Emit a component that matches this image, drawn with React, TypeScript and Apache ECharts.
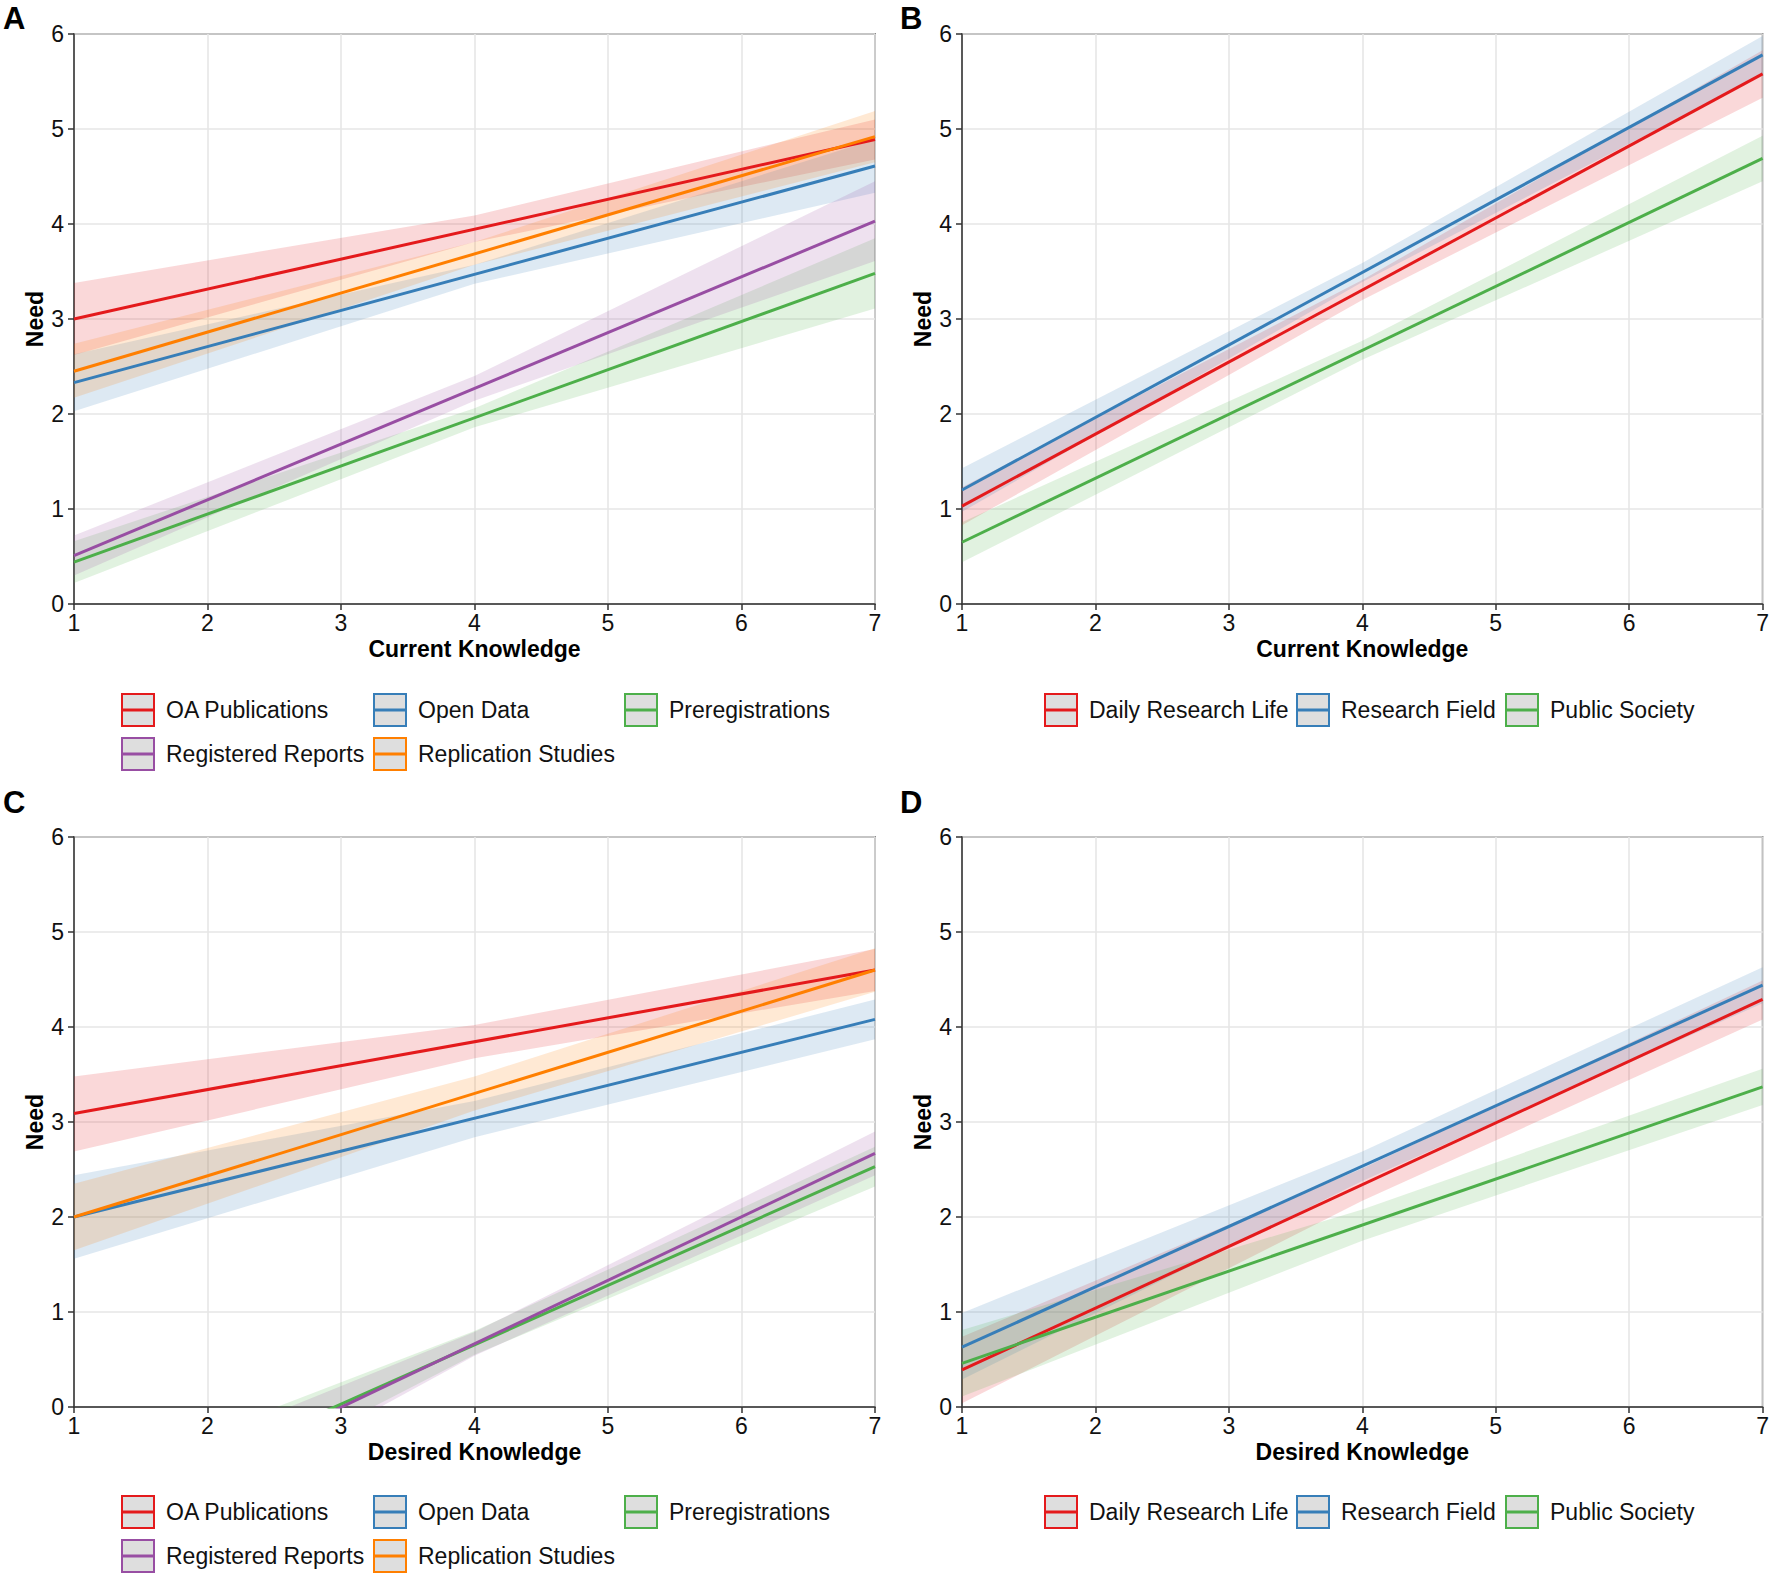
import React, { useEffect, useRef } from "react";
import * as echarts from "echarts";

// ---------- data ----------
const lineX = [1, 7];
const bandX = [1, 4, 7];

const typeNames = ["OA Publications", "Open Data", "Preregistrations", "Registered Reports", "Replication Studies"];
const typeColors = ["#E41A1C", "#377EB8", "#4DAF4A", "#984EA3", "#FF7F00"];
const levelNames = ["Daily Research Life", "Research Field", "Public Society"];
const levelColors = ["#E41A1C", "#377EB8", "#4DAF4A"];

// Panel A: Current Knowledge x type
const aLine = [[3.0, 4.89], [2.33, 4.61], [0.44, 3.48], [0.51, 4.03], [2.45, 4.92]];
const aLower = [[2.62, 3.81, 4.68], [2.03, 3.37, 4.33], [0.22, 1.86, 3.11], [0.30, 2.14, 3.61], [2.17, 3.57, 4.65]];
const aUpper = [[3.38, 4.09, 5.10], [2.63, 3.57, 4.89], [0.66, 2.06, 3.85], [0.72, 2.40, 4.45], [2.74, 3.81, 5.19]];

// Panel B: Current Knowledge x level
const bLine = [[1.03, 5.58], [1.20, 5.78], [0.65, 4.69]];
const bLower = [[0.83, 3.20, 5.33], [0.97, 3.39, 5.57], [0.44, 2.57, 4.45]];
const bUpper = [[1.23, 3.41, 5.83], [1.43, 3.59, 5.98], [0.86, 2.77, 4.93]];

// Panel C: Desired Knowledge x type
const cLine = [[3.09, 4.60], [2.0, 4.08], [-1.22, 2.53], [-1.34, 2.67], [2.0, 4.60]];
const cLower = [[2.69, 3.67, 4.38], [1.56, 2.84, 3.87], [-1.62, 0.55, 2.32], [-1.76, 0.54, 2.44], [1.65, 3.12, 4.37]];
const cUpper = [[3.48, 4.02, 4.82], [2.44, 3.22, 4.29], [-0.82, 0.80, 2.74], [-0.92, 0.79, 2.90], [2.35, 3.48, 4.83]];

// Panel D: Desired Knowledge x level
const dLine = [[0.39, 4.29], [0.63, 4.44], [0.46, 3.37]];
const dLower = [[0.04, 2.17, 4.08], [0.29, 2.38, 4.25], [0.11, 1.75, 3.18]];
const dUpper = [[0.74, 2.51, 4.49], [0.99, 2.69, 4.63], [0.81, 2.08, 3.56]];

const panelLetters = ["A", "B", "C", "D"];
const xTitles = ["Current Knowledge", "Current Knowledge", "Desired Knowledge", "Desired Knowledge"];
const yTitle = "Need";

// ---------- layout ----------
const FONT = "'Liberation Sans', Arial, Helvetica, sans-serif";
const grids = [
  { left: 74, top: 34, width: 801, height: 570 },
  { left: 962, top: 34, width: 801, height: 570 },
  { left: 74, top: 837, width: 801, height: 570 },
  { left: 962, top: 837, width: 801, height: 570 },
];

function buildSeries(g: number, names: string[], colors: string[], line: number[][], lower: number[][], upper: number[][]) {
  const out: any[] = [];
  names.forEach((name, i) => {
    const pts = bandX.map((x, k) => [x, lower[i][k], upper[i][k]]);
    const color = colors[i];
    out.push({
      type: "custom",
      name: name + " CI",
      xAxisIndex: g,
      yAxisIndex: g,
      clip: true,
      silent: true,
      z: 1,
      data: pts,
      encode: { x: 0, y: [1, 2] },
      renderItem: (params: any, api: any) => {
        if (params.dataIndex !== 0) return { type: "group", children: [] };
        const up = pts.map((p) => api.coord([p[0], p[2]]));
        const lo = pts.map((p) => api.coord([p[0], p[1]])).reverse();
        return {
          type: "polygon",
          shape: { points: up.concat(lo) },
          style: { fill: color, opacity: 0.17 },
        };
      },
    });
    out.push({
      type: "line",
      name,
      xAxisIndex: g,
      yAxisIndex: g,
      data: lineX.map((x, k) => [x, line[i][k]]),
      showSymbol: false,
      symbol: "none",
      clip: true,
      silent: true,
      z: 3,
      lineStyle: { color, width: 3 },
      itemStyle: { color },
    });
  });
  return out;
}

function legendGraphics(names: string[], colors: string[], keyXs: number[], rowYs: number[]) {
  const els: any[] = [];
  names.forEach((name, i) => {
    const col = i % keyXs.length;
    const row = Math.floor(i / keyXs.length);
    const x = keyXs[col];
    const y = rowYs[row];
    els.push({
      type: "rect",
      shape: { x: x, y: y - 16, width: 32, height: 32 },
      style: { fill: "#dedede", stroke: colors[i], lineWidth: 2 },
    });
    els.push({
      type: "line",
      shape: { x1: x + 1, y1: y, x2: x + 31, y2: y },
      style: { stroke: colors[i], lineWidth: 3 },
    });
    els.push({
      type: "text",
      x: x + 44,
      y: y,
      style: { text: name, font: `23px ${FONT}`, fill: "#111", textVerticalAlign: "middle", textAlign: "left" },
    });
  });
  return els;
}

export default function App() {
  const ref = useRef<HTMLDivElement>(null);
  useEffect(() => {
    if (!ref.current) return;
    const chart = echarts.init(ref.current, undefined, { renderer: "svg" });

    const axisLineStyle = { color: "#333", width: 1.5 };
    const xAxes = grids.map((_, g) => ({
      type: "value",
      gridIndex: g,
      min: 1,
      max: 7,
      interval: 1,
      name: xTitles[g],
      nameLocation: "middle",
      nameGap: 33,
      nameTextStyle: { fontFamily: FONT, fontSize: 23, fontWeight: "bold", color: "#000" },
      axisLine: { show: true, lineStyle: axisLineStyle },
      axisTick: { show: true, length: 6, lineStyle: axisLineStyle },
      axisLabel: { fontFamily: FONT, fontSize: 23, color: "#111", margin: 7 },
      splitLine: { show: true, lineStyle: { color: "#e6e6e6", width: 1.6 } },
    }));
    const yAxes = grids.map((_, g) => ({
      type: "value",
      gridIndex: g,
      min: 0,
      max: 6,
      interval: 1,
      name: yTitle,
      nameLocation: "middle",
      nameRotate: 90,
      nameGap: 28,
      nameTextStyle: { fontFamily: FONT, fontSize: 23, fontWeight: "bold", color: "#000" },
      axisLine: { show: true, lineStyle: axisLineStyle },
      axisTick: { show: true, length: 6, lineStyle: axisLineStyle },
      axisLabel: { fontFamily: FONT, fontSize: 23, color: "#111", margin: 10 },
      splitLine: { show: true, lineStyle: { color: "#e6e6e6", width: 1.6 } },
    }));

    const series = [
      ...buildSeries(0, typeNames, typeColors, aLine, aLower, aUpper),
      ...buildSeries(1, levelNames, levelColors, bLine, bLower, bUpper),
      ...buildSeries(2, typeNames, typeColors, cLine, cLower, cUpper),
      ...buildSeries(3, levelNames, levelColors, dLine, dLower, dUpper),
    ];

    const labelPos = [
      [3, 18],
      [900, 18],
      [3, 802],
      [900, 802],
    ];
    const graphics: any[] = [
      ...panelLetters.map((t, i) => ({
        type: "text",
        x: labelPos[i][0],
        y: labelPos[i][1],
        style: { text: t, font: `bold 31px ${FONT}`, fill: "#000", textVerticalAlign: "middle", textAlign: "left" },
      })),
      ...legendGraphics(typeNames, typeColors, [122, 374, 625], [710, 754]),
      ...legendGraphics(levelNames, levelColors, [1045, 1297, 1506], [710]),
      ...legendGraphics(typeNames, typeColors, [122, 374, 625], [1512, 1556]),
      ...legendGraphics(levelNames, levelColors, [1045, 1297, 1506], [1512]),
    ];

    chart.setOption({
      animation: false,
      backgroundColor: "#ffffff",
      textStyle: { fontFamily: FONT },
      grid: grids.map((g) => ({
        ...g,
        show: true,
        borderColor: "#333",
        borderWidth: 1.5,
        backgroundColor: "transparent",
        containLabel: false,
      })),
      xAxis: xAxes,
      yAxis: yAxes,
      series,
      graphic: graphics,
    });
    return () => chart.dispose();
  }, []);
  return (
    <div
      ref={ref}
      style={{ position: "fixed", left: 0, top: 0, width: 1772, height: 1577, background: "#fff" }}
    />
  );
}
